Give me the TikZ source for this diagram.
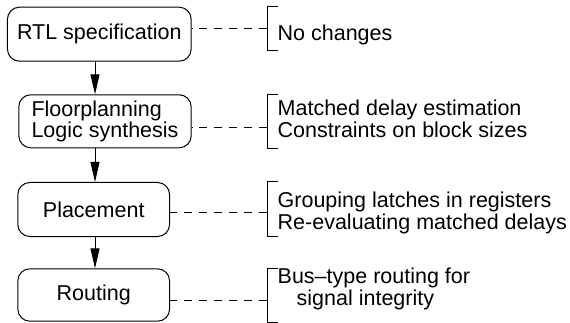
\documentclass[tikz,border=0pt]{standalone}
\usepackage{fontspec}
\setmainfont{Liberation Sans}
\usetikzlibrary{arrows.meta}

\begin{document}
\begin{tikzpicture}[x=1pt,y=-1pt,
   stage/.style={draw,line width=1pt,rounded corners=12pt,align=left,
     font=\fontsize{21.5}{21}\selectfont},
   note/.style={anchor=north west,inner sep=0pt,align=left,
     font=\fontsize{21.5}{21.7}\selectfont},
   flow/.style={line width=1pt,-{Triangle[length=20pt,width=9pt]}},
   lead/.style={line width=1pt,dash pattern=on 8pt off 7pt},
   brace/.style={line width=1pt}]
   \useasboundingbox (0,0) rectangle (570,323);
   % design steps
   \node[stage,minimum width=183.7pt,minimum height=54pt] (rtl) at (99.3,34.2) {RTL specification};
   \node[stage,minimum width=172.4pt,minimum height=53pt] (fp) at (105,121.3) {Floorplanning\\Logic synthesis};
   \node[stage,minimum width=151.7pt,minimum height=54pt] (place) at (93.7,209.5) {Placement};
   \node[stage,minimum width=151.7pt,minimum height=52.4pt] (route) at (93.7,295) {Routing};
   \coordinate (spine) at (95,0);
   \draw[flow] (rtl.south -| spine) -- (fp.north -| spine);
   \draw[flow] (fp.south -| spine) -- (place.north -| spine);
   \draw[flow] (place.south -| spine) -- (route.north -| spine);
   % brackets with the remarks
   \coordinate (m1) at (267,28.5);
   \coordinate (m2) at (267,127.3);
   \coordinate (m3) at (267,213);
   \coordinate (m4) at (267,300);
   \draw[brace] (278,6.7) -- (267,6.7) -- (267,50.7) -- (278,50.7);
   \draw[brace] (278,94.3) -- (267,94.3) -- (267,148.3) -- (278,148.3);
   \draw[brace] (278,182) -- (267,182) -- (267,236) -- (278,236);
   \draw[brace] (278,268) -- (267,268) -- (267,322) -- (278,322);
   \draw[lead] (m1) -- (rtl.east |- m1);
   \draw[lead] (m2) -- (fp.east |- m2);
   \draw[lead] (m3) -- (place.east |- m3);
   \draw[lead] (m4) -- (route.east |- m4);
   \node[note] (n1) at (277.5,25) {No changes};
   \node[note] (n2) at (277.5,100) {Matched delay estimation\\Constraints on block sizes};
   \node[note] (n3) at (277.5,192) {Grouping latches in registers\\Re-evaluating matched delays};
   \node[note] (n4) at (277.5,268) {Bus--type routing for\\\hspace*{19pt}signal integrity};
\end{tikzpicture}
\end{document}
